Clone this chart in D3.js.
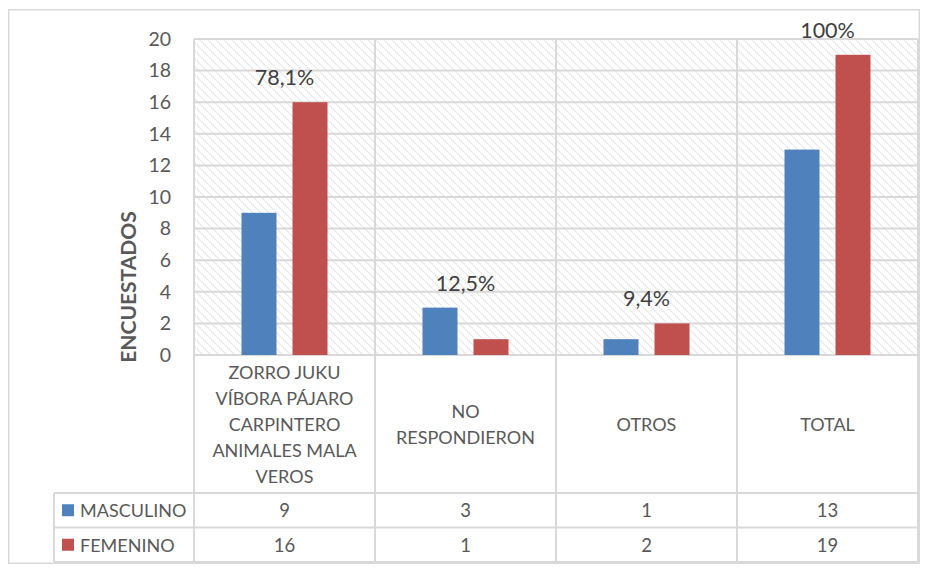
<!DOCTYPE html>
<html><head><meta charset="utf-8">
<script src="https://cdn.jsdelivr.net/npm/d3@7"></script>
<style>body{margin:0;background:#fff}svg{display:block;font-family:Lato,"Open Sans",sans-serif}</style>
</head><body><svg id="c" width="933" height="571"></svg>
<script>
// ---- data ----
const categories = [
  ["ZORRO JUKU","VÍBORA PÁJARO","CARPINTERO","ANIMALES MALA","VEROS"],
  ["NO","RESPONDIERON"],
  ["OTROS"],
  ["TOTAL"]
];
const seriesNames = ["MASCULINO","FEMENINO"];
const masculino = [9,3,1,13];
const femenino = [16,1,2,19];
const percentLabels = ["78,1%","12,5%","9,4%","100%"];
const yTicks = [0,2,4,6,8,10,12,14,16,18,20];
const yTitle = "ENCUESTADOS";
const seriesColors = ["#4f81bd","#c0504d"];

// ---- layout ----
const svg = d3.select("#c");
const plot = {left:194, right:918, top:39, bottom:355};
const tableTop = 493, rowH = 34.5, legendLeft = 54;
const tableBottom = tableTop + 2*rowH;
const grid = "#d9d9d9", textCol = "#595959";

const series = [masculino, femenino];
const x0 = d3.scaleBand().domain(d3.range(categories.length)).range([plot.left, plot.right]).padding(0);
const bw = x0.bandwidth();
const x1 = d3.scaleBand().domain(d3.range(seriesNames.length))
  .range([bw/2 - bw*0.2376, bw/2 + bw*0.2376]).paddingInner(0.314).paddingOuter(0);
const y = d3.scaleLinear().domain([0,20]).range([plot.bottom, plot.top]);

// pattern
const defs = svg.append("defs");
const pat = defs.append("pattern").attr("id","hatch").attr("patternUnits","userSpaceOnUse")
  .attr("width",8).attr("height",8);
pat.append("rect").attr("width",8).attr("height",8).attr("fill","#fff");
pat.append("path").attr("d","M-2,-2L10,10M-2,6L2,10M6,-2L10,2")
  .attr("stroke","#dadada").attr("stroke-width",1.2).attr("stroke-dasharray","1.4,1");

// outer border
svg.append("rect").attr("x",8.75).attr("y",9.75).attr("width",910.5).attr("height",553.5)
  .attr("fill","none").attr("stroke",grid).attr("stroke-width",1.5);

// plot background
svg.append("rect").attr("x",plot.left).attr("y",plot.top)
  .attr("width",plot.right-plot.left).attr("height",plot.bottom-plot.top).attr("fill","url(#hatch)");

// horizontal gridlines
svg.append("g").selectAll("line").data(yTicks).join("line")
  .attr("x1",plot.left).attr("x2",plot.right)
  .attr("y1",d=>y(d)).attr("y2",d=>y(d))
  .attr("stroke",grid).attr("stroke-width",2);

// vertical lines (category separators / table borders)
const xs = d3.range(categories.length).map(i=>x0(i)).concat([plot.right]);
svg.append("g").selectAll("line").data(xs).join("line")
  .attr("x1",d=>d).attr("x2",d=>d).attr("y1",plot.top).attr("y2",tableBottom)
  .attr("stroke",grid).attr("stroke-width",2);

// table horizontal lines
svg.append("g").selectAll("line").data([tableTop, tableTop+rowH, tableBottom]).join("line")
  .attr("x1",legendLeft).attr("x2",plot.right).attr("y1",d=>d).attr("y2",d=>d)
  .attr("stroke",grid).attr("stroke-width",2);
svg.append("line").attr("x1",legendLeft).attr("x2",legendLeft).attr("y1",tableTop).attr("y2",tableBottom)
  .attr("stroke",grid).attr("stroke-width",2);

// bars
const gCat = svg.append("g").selectAll("g").data(d3.range(categories.length)).join("g")
  .attr("transform",i=>`translate(${x0(i)},0)`);
gCat.selectAll("rect").data(i=>series.map((s,k)=>({k, v:s[i]}))).join("rect")
  .attr("x",d=>x1(d.k)).attr("width",x1.bandwidth())
  .attr("y",d=>y(d.v)).attr("height",d=>y(0)-y(d.v))
  .attr("fill",d=>seriesColors[d.k]);

// percentage labels
gCat.append("text")
  .attr("x",bw/2)
  .attr("y",i=>y(Math.max(masculino[i],femenino[i])) - 25)
  .attr("text-anchor","middle").attr("dominant-baseline","central")
  .attr("font-size",21.5).attr("fill","#404040")
  .text(i=>percentLabels[i]);

// y axis labels
const ax = svg.append("g").attr("transform",`translate(${plot.left},0)`)
  .call(d3.axisLeft(y).tickValues(yTicks).tickSize(0).tickPadding(23).tickFormat(d3.format("d")));
ax.select(".domain").remove();
ax.selectAll("text").attr("font-size",19.5).attr("fill",textCol).attr("font-family","Lato,sans-serif");

// y title
svg.append("text").attr("transform","translate(127,287) rotate(-90)")
  .attr("text-anchor","middle").attr("dominant-baseline","central")
  .attr("font-size",21).attr("font-weight","bold").attr("fill",textCol).text(yTitle);

// category labels
const lineH = 25.8, catCenter = 424;
gCat.append("text").attr("text-anchor","middle").attr("font-size",18).attr("fill",textCol)
  .each(function(i){
    const lines = categories[i];
    const t = d3.select(this);
    lines.forEach((l,j)=>{
      t.append("tspan").attr("x",bw/2)
        .attr("y",catCenter + (j-(lines.length-1)/2)*lineH)
        .attr("dominant-baseline","central").text(l);
    });
  });

// table values
series.forEach((s,k)=>{
  const cy = tableTop + rowH*(k+0.5);
  gCat.append("text").attr("x",bw/2).attr("y",cy)
    .attr("text-anchor","middle").attr("dominant-baseline","central")
    .attr("font-size",18.5).attr("fill",textCol).text(i=>s[i]);
  svg.append("rect").attr("x",62).attr("y",cy-6).attr("width",12).attr("height",12).attr("fill",seriesColors[k]);
  svg.append("text").attr("x",80).attr("y",cy).attr("dominant-baseline","central")
    .attr("font-size",18).attr("fill",textCol).text(seriesNames[k]);
});
</script></body></html>
